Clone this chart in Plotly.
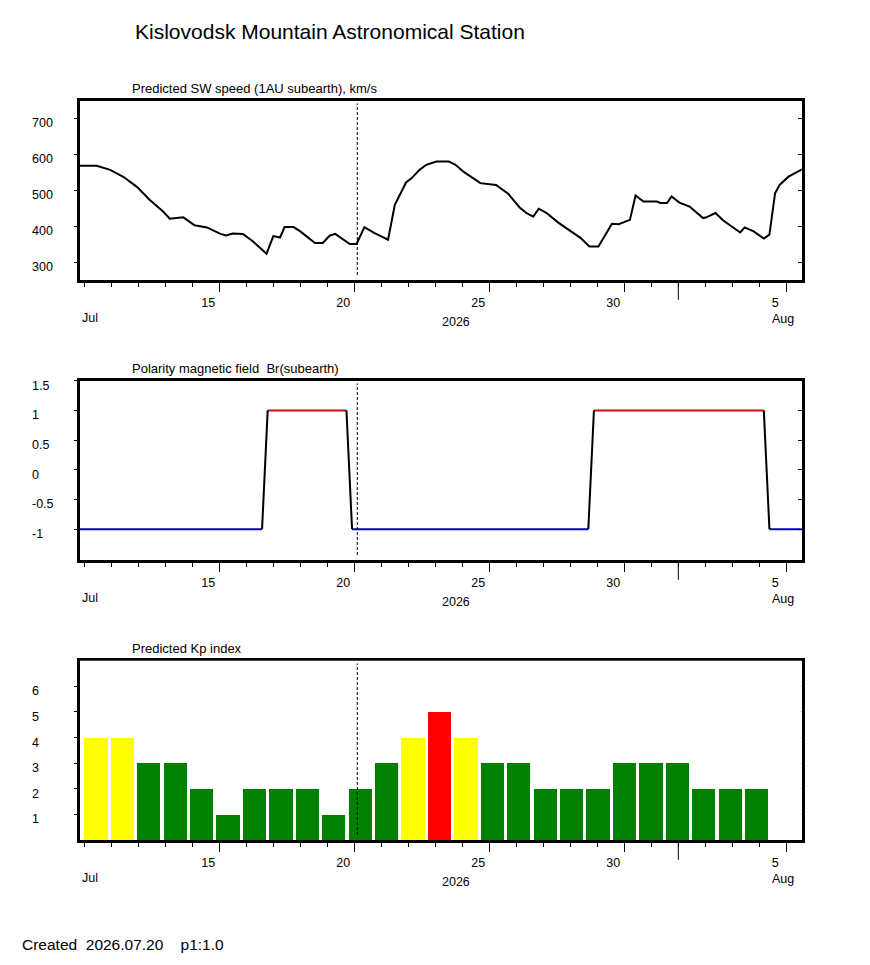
import pandas as pd
import plotly.graph_objects as go

# predicted solar wind speed, km/s
sw_time = [
    "2026-07-09 20:00", "2026-07-10 11:00", "2026-07-10 23:00", "2026-07-11 11:00",
    "2026-07-11 23:00", "2026-07-12 10:00", "2026-07-12 22:00", "2026-07-13 04:00",
    "2026-07-13 16:00", "2026-07-14 02:00", "2026-07-14 13:00", "2026-07-15 01:00",
    "2026-07-15 06:00", "2026-07-15 12:00", "2026-07-15 21:00", "2026-07-16 06:00",
    "2026-07-16 18:00", "2026-07-17 00:00", "2026-07-17 06:00", "2026-07-17 10:00",
    "2026-07-17 18:00", "2026-07-18 00:00", "2026-07-18 13:00", "2026-07-18 20:00",
    "2026-07-19 02:00", "2026-07-19 07:00", "2026-07-19 20:00", "2026-07-20 02:00",
    "2026-07-20 09:00", "2026-07-20 18:00", "2026-07-21 06:00", "2026-07-21 12:00",
    "2026-07-21 22:00", "2026-07-22 03:00", "2026-07-22 10:00", "2026-07-22 16:00",
    "2026-07-23 01:00", "2026-07-23 12:00", "2026-07-23 18:00", "2026-07-24 01:00",
    "2026-07-24 16:00", "2026-07-25 01:00", "2026-07-25 06:00", "2026-07-25 17:00",
    "2026-07-26 03:00", "2026-07-26 09:00", "2026-07-26 15:00", "2026-07-26 20:00",
    "2026-07-27 03:00", "2026-07-27 13:00", "2026-07-28 00:00", "2026-07-28 09:00",
    "2026-07-28 17:00", "2026-07-29 01:00", "2026-07-29 13:00", "2026-07-29 19:00",
    "2026-07-30 05:00", "2026-07-30 10:00", "2026-07-30 17:00", "2026-07-31 05:00",
    "2026-07-31 08:00", "2026-07-31 14:00", "2026-07-31 18:00", "2026-08-01 01:00",
    "2026-08-01 10:00", "2026-08-01 22:00", "2026-08-02 01:00", "2026-08-02 09:00",
    "2026-08-02 16:00", "2026-08-03 07:00", "2026-08-03 11:00", "2026-08-03 19:00",
    "2026-08-04 04:00", "2026-08-04 09:00", "2026-08-04 14:00", "2026-08-04 18:00",
    "2026-08-05 02:00", "2026-08-05 11:00", "2026-08-05 16:00",
]
sw_speed = [
    568, 568, 557, 537, 509, 474, 441, 421,
    425, 403, 397, 379, 375, 380, 379, 358,
    324, 373, 369, 398, 398, 386, 354, 354,
    374, 379, 351, 351, 398, 381, 363, 460,
    522, 534, 557, 571, 580, 580, 571, 552,
    520, 518, 515, 490, 452, 437, 427, 449,
    437, 411, 386, 368, 344, 344, 407, 406,
    418, 486, 469, 469, 465, 465, 483, 466,
    455, 423, 425, 437, 416, 383, 397, 386,
    366, 377, 492, 515, 538, 555, 562,
]

# polarity of Br at subearth point
pol_time = [
    "2026-07-09 18:00", "2026-07-16 14:00", "2026-07-16 19:00", "2026-07-19 17:00",
    "2026-07-19 22:00", "2026-07-28 16:00", "2026-07-28 21:00", "2026-08-04 04:00",
    "2026-08-04 09:00", "2026-08-05 18:00",
]
pol_value = [-1, -1, 1, 1, -1, -1, 1, 1, -1, -1]

# daily Kp forecast
kp_date = pd.date_range("2026-07-10", periods=26, freq="D")
kp_value = [4, 4, 3, 3, 2, 1, 2, 2, 2, 1, 2, 3, 4, 5, 4, 3, 3, 2, 2, 2, 3, 3, 3, 2, 2, 2]

major_ticks = ["2026-07-15", "2026-07-20", "2026-07-25", "2026-07-30", "2026-08-05"]
major_text = ["15", "20", "25", "30", "5"]
now_time = "2026-07-20 02:40"

# page body keeps an 8px margin, so the figure is made that much smaller
OFF = 8
W, H = 870 - OFF, 965 - OFF
FONT = "Arial, Liberation Sans, sans-serif"
NB = "\u00a0"
# panel frames in pixels (top, bottom)
panels = [(100.7, 280.0), (380.7, 560.0), (660.7, 840.0)]
x_left, x_right = 80.0, 801.7


def px_x(p):
    return (p - OFF) / W


def px_y(p):
    return 1 - (p - OFF) / H


fig = go.Figure()

fig.add_trace(go.Scatter(x=sw_time, y=sw_speed, mode="lines",
                         line=dict(color="black", width=2),
                         xaxis="x", yaxis="y", showlegend=False))

# polarity: blue for negative, red for positive, black for transitions
seg = {"#0000CC": ([], []), "#CC1111": ([], []), "black": ([], [])}
for i in range(len(pol_time) - 1):
    a, b = pol_value[i], pol_value[i + 1]
    if a == b == -1:
        c = "#0000CC"
    elif a == b == 1:
        c = "#CC1111"
    else:
        c = "black"
    seg[c][0].extend([pol_time[i], pol_time[i + 1], None])
    seg[c][1].extend([a, b, None])
for c, (xs, ys) in seg.items():
    fig.add_trace(go.Scatter(x=xs, y=ys, mode="lines",
                             line=dict(color=c, width=2),
                             xaxis="x2", yaxis="y2", showlegend=False))

kp_colors = ["#FF0000" if v >= 5 else "#FFFF00" if v == 4 else "#008000"
             for v in kp_value]
fig.add_trace(go.Bar(x=kp_date, y=kp_value, marker=dict(color=kp_colors, line_width=0),
                     width=0.88 * 86400000, offset=0,
                     xaxis="x4", yaxis="y3", showlegend=False))

x_range = ["2026-07-09 20:10", "2026-08-05 13:41"]
y_ranges = [[251, 749], [-1.52, 1.5], [0, 7]]
y_ticks = [[300, 400, 500, 600, 700], [1.5, 1, 0.5, 0, -0.5, -1], [1, 2, 3, 4, 5, 6]]
y_text = [[str(v) for v in y_ticks[0]], ["1.5", "1", "0.5", "0", "-0.5", "-1"],
          [str(v) for v in y_ticks[2]]]

layout = dict(
    width=W, height=H,
    margin=dict(l=0, r=0, t=0, b=0),
    plot_bgcolor="white", paper_bgcolor="white",
    font=dict(family=FONT, size=12, color="black"),
    bargap=0,
    title=dict(text="Kislovodsk Mountain Astronomical Station",
               x=px_x(135), xanchor="left", y=px_y(32), yanchor="middle",
               font=dict(size=21, family=FONT, color="black")),
)

annotations = []
shapes = []
titles = ["Predicted SW speed (1AU subearth), km/s",
          "Polarity magnetic field" + NB + NB + "Br(subearth)",
          "Predicted Kp index"]

for k, (top, bot) in enumerate(panels):
    n = k + 1
    sx = "" if n == 1 else str(n)
    dom = [px_y(bot), px_y(top)]
    layout["xaxis" + sx] = dict(
        domain=[px_x(x_left), px_x(x_right)], anchor="y" + sx, type="date",
        range=x_range, showgrid=False, zeroline=False,
        showline=True, linewidth=3, linecolor="black", mirror=True,
        tickvals=major_ticks, ticktext=major_text, ticks="outside",
        ticklen=9, tickwidth=1, tickcolor="black", ticklabelshift=-11,
        tickfont=dict(size=12.5),
        minor=dict(dtick=86400000, tick0="2026-07-01", ticks="outside",
                   ticklen=4, tickwidth=1, tickcolor="black", showgrid=False),
    )
    layout["yaxis" + sx] = dict(
        domain=dom, anchor="x" + sx, range=y_ranges[k], showgrid=False,
        zeroline=False, showline=True, linewidth=3, linecolor="black",
        mirror=True, tickvals=y_ticks[k], ticks="outside", ticklen=3,
        tickcolor="black", showticklabels=False,
    )
    # inward ticks on the right frame
    layout["yaxis" + str(n + 3)] = dict(
        overlaying="y" + sx, side="right", anchor="x" + sx, range=y_ranges[k],
        showgrid=False, zeroline=False, showline=False, tickvals=y_ticks[k],
        ticks="inside", ticklen=4, tickcolor="black", showticklabels=False,
    )
    fig.add_trace(go.Scatter(x=[], y=[], xaxis="x" + sx, yaxis="y" + str(n + 3),
                             showlegend=False, hoverinfo="skip"))

    # left aligned tick labels
    for v, t in zip(y_ticks[k], y_text[k]):
        annotations.append(dict(text=t, xref="paper", x=px_x(30), xanchor="left",
                                yref="y" + sx, y=v, yanchor="middle", yshift=-5,
                                showarrow=False, font=dict(size=12.5)))
    annotations.append(dict(text=titles[k], xref="paper", x=px_x(130), xanchor="left",
                            yref="paper", y=px_y(top - 12), yanchor="middle",
                            showarrow=False, font=dict(size=13)))
    for txt, xp, dy in [("Jul", 80, 38), ("2026", 440, 42), ("Aug", 770, 39)]:
        annotations.append(dict(text=txt, xref="paper", x=px_x(xp), xanchor="left",
                                yref="paper", y=px_y(bot + dy), yanchor="middle",
                                showarrow=False, font=dict(size=12.5)))
    # current moment
    shapes.append(dict(type="line", xref="x" + sx, yref="y%s domain" % sx,
                       x0=now_time, x1=now_time, y0=0.028, y1=0.985,
                       line=dict(color="black", width=1, dash="3px,2px")))
    # month boundary tick
    shapes.append(dict(type="line", xref="x" + sx, yref="y%s domain" % sx,
                       x0="2026-08-01", x1="2026-08-01", y0=-0.01, y1=-0.11,
                       line=dict(color="black", width=1)))

layout["xaxis4"] = dict(
    overlaying="x3", anchor="y3", type="date",
    range=["2026-07-09 20:06", "2026-08-06 03:32"],
    showgrid=False, zeroline=False, showline=False, ticks="",
    showticklabels=False,
)

annotations.append(dict(text="Created" + NB + NB + "2026.07.20" + NB * 4 + "p1:1.0",
                        xref="paper", x=px_x(20), xanchor="left", yref="paper",
                        y=px_y(944), yanchor="middle", showarrow=False,
                        font=dict(size=15.5)))

layout["annotations"] = annotations
layout["shapes"] = shapes
fig.update_layout(**layout)

fig.write_html("out.html")
